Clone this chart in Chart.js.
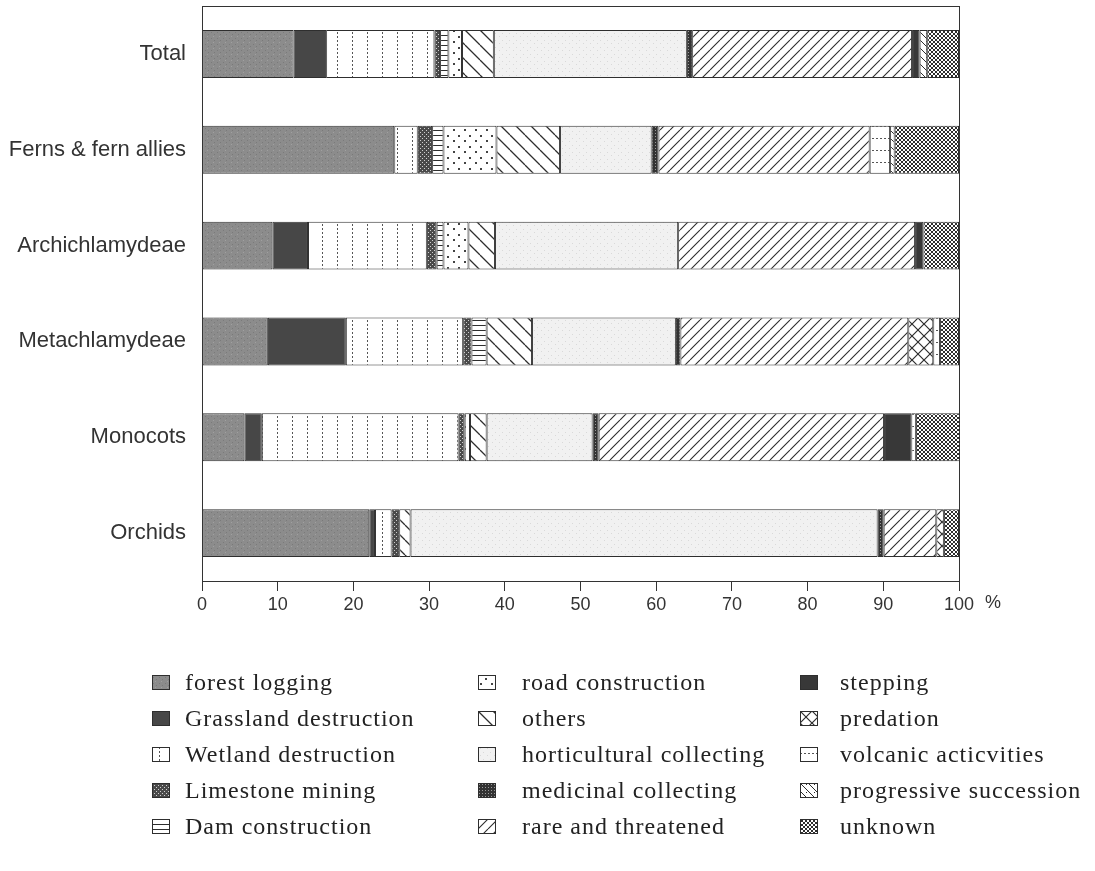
<!DOCTYPE html>
<html>
<head>
<meta charset="utf-8">
<script src="https://cdn.jsdelivr.net/npm/chart.js@4.4.1/dist/chart.umd.min.js"></script>
<style>
  body { margin: 0; background: #fff; }
  #wrap { position: absolute; left: 0; top: 0; width: 1095px; height: 640px; }
  #legend { position: absolute; left: 0; top: 0; width: 1095px; height: 871px; pointer-events: none; }
  .sw { position: absolute; }
  .txt { position: absolute; font-family: "Liberation Serif", "DejaVu Serif", serif; font-size: 24px; line-height: 28px; color: #222; letter-spacing: 1px; white-space: nowrap; }
</style>
</head>
<body>
<div id="wrap"><canvas id="chart"></canvas></div>
<div id="legend"></div>
<script>
var categories = ['Total', 'Ferns & fern allies', 'Archichlamydeae', 'Metachlamydeae', 'Monocots', 'Orchids'];
var xTicks = [0, 10, 20, 30, 40, 50, 60, 70, 80, 90, 100];

// shares in percent, one value per category (null = cause not present)
var forestLogging = [12.1, 25.4, 9.3, 8.7, 5.6, 22.1];
var grasslandDestruction = [4.3, null, 4.7, 10.3, 2.3, 0.75];
var wetlandDestruction = [14.3, 3.1, 15.7, 15.5, 26.0, 2.2];
var limestoneMining = [0.75, 1.9, 1.3, 1.1, 0.8, 1.0];
var damConstruction = [1.1, 1.5, 0.9, 2.0, null, null];
var roadConstruction = [1.8, 7.0, 3.3, null, 0.7, null];
var others = [4.2, 8.4, 3.5, 6.0, 2.2, 1.5];
var horticulturalCollecting = [25.5, 12.1, 24.2, 19.0, 14.0, 61.7];
var medicinalCollecting = [0.7, 0.9, null, 0.6, 0.8, 0.8];
var rareAndThreatened = [29.05, 27.9, 31.3, 30.1, 37.7, 6.95];
var stepping = [1.0, null, 1.1, null, 3.6, null];
var predation = [null, null, null, 3.3, null, 1.0];
var volcanicActivities = [null, 2.7, null, 0.9, 0.6, null];
var progressiveSuccession = [1.0, 0.6, null, null, null, null];
var unknown = [4.2, 8.5, 4.7, 2.5, 6.5, 2.0];

var INK = '#2e2e2e';

function tile(w, h, bg, draw) {
    var c = document.createElement('canvas');
    c.width = w; c.height = h;
    var g = c.getContext('2d');
    g.fillStyle = bg;
    g.fillRect(0, 0, w, h);
    g.fillStyle = INK;
    g.strokeStyle = INK;
    if (draw) draw(g, w, h);
    return g.createPattern(c, 'repeat');
}

function slash(g, s, back) {
    g.beginPath();
    for (var k = -1; k <= 1; k++) {
        if (back) { g.moveTo(k * s, 0); g.lineTo(k * s + s, s); }
        else { g.moveTo(k * s, s); g.lineTo(k * s + s, 0); }
    }
    g.stroke();
}

var patterns = {
    forest: tile(6, 6, '#8c8c8c', function (g) {
        g.fillStyle = '#7a7a7a'; g.fillRect(1, 2, 1, 1); g.fillRect(4, 4, 1, 1);
        g.fillStyle = '#a0a0a0'; g.fillRect(3, 0, 1, 1);
    }),
    grassland: tile(4, 4, '#474747'),
    wetland: tile(15, 4, '#fff', function (g) { g.fillStyle = '#555'; g.fillRect(7, 0, 1, 2); }),
    limestone: tile(4, 4, '#4a4a4a', function (g) {
        g.fillStyle = '#d0d0d0'; g.fillRect(0, 0, 1, 1); g.fillRect(2, 2, 1, 1);
    }),
    dam: tile(4, 5, '#fff', function (g) { g.fillRect(0, 0, 4, 1); }),
    road: tile(11, 11, '#fff', function (g) {
        g.fillStyle = '#444'; g.fillRect(2, 8, 2, 2); g.fillRect(7, 3, 2, 2);
    }),
    others: tile(15, 15, '#fff', function (g) { g.lineWidth = 1.3; slash(g, 15, true); }),
    horticultural: tile(7, 7, '#f1f1f1', function (g) {
        g.fillStyle = '#d9d9d9'; g.fillRect(2, 1, 1, 1); g.fillRect(5, 5, 1, 1);
    }),
    medicinal: tile(3, 3, '#333', function (g) { g.fillStyle = '#9a9a9a'; g.fillRect(1, 1, 1, 1); }),
    rare: tile(10, 10, '#fff', function (g) { g.lineWidth = 1.1; slash(g, 10, false); }),
    stepping: tile(4, 4, '#383838'),
    predation: tile(12, 12, '#fff', function (g) { g.lineWidth = 1.2; slash(g, 12, false); slash(g, 12, true); }),
    volcanic: tile(4, 12, '#fff', function (g) { g.fillStyle = '#555'; g.fillRect(0, 6, 2, 1); }),
    progressive: tile(8, 8, '#fff', function (g) {
        g.lineWidth = 1; slash(g, 8, true);
        g.fillRect(6, 1, 1, 1);
    }),
    unknown: tile(4, 4, '#fff', function (g) { g.lineWidth = 1; slash(g, 4, false); slash(g, 4, true); })
};

var series = [
    { label: 'forest logging', data: forestLogging, fill: patterns.forest },
    { label: 'Grassland destruction', data: grasslandDestruction, fill: patterns.grassland },
    { label: 'Wetland destruction', data: wetlandDestruction, fill: patterns.wetland },
    { label: 'Limestone mining', data: limestoneMining, fill: patterns.limestone },
    { label: 'Dam construction', data: damConstruction, fill: patterns.dam },
    { label: 'road construction', data: roadConstruction, fill: patterns.road },
    { label: 'others', data: others, fill: patterns.others },
    { label: 'horticultural collecting', data: horticulturalCollecting, fill: patterns.horticultural },
    { label: 'medicinal collecting', data: medicinalCollecting, fill: patterns.medicinal },
    { label: 'rare and threatened', data: rareAndThreatened, fill: patterns.rare },
    { label: 'stepping', data: stepping, fill: patterns.stepping },
    { label: 'predation', data: predation, fill: patterns.predation },
    { label: 'volcanic acticvities', data: volcanicActivities, fill: patterns.volcanic },
    { label: 'progressive succession', data: progressiveSuccession, fill: patterns.progressive },
    { label: 'unknown', data: unknown, fill: patterns.unknown }
];

var datasets = series.map(function (s) {
    return {
        label: s.label,
        data: s.data,
        backgroundColor: s.fill,
        borderColor: INK,
        borderWidth: 1,
        borderSkipped: false,
        categoryPercentage: 0.5,
        barPercentage: 1.0
    };
});

// frame around the plot plus the "%" after the last tick
var framePlugin = {
    id: 'frame',
    afterDraw: function (chart) {
        var a = chart.chartArea, ctx = chart.ctx;
        ctx.save();
        ctx.strokeStyle = '#333';
        ctx.lineWidth = 1;
        ctx.strokeRect(a.left + 0.5, a.top + 0.5, a.right - a.left, a.bottom - a.top);
        ctx.fillStyle = '#333';
        ctx.font = '18px "Liberation Sans", Arial, sans-serif';
        ctx.textBaseline = 'top';
        ctx.fillText('%', a.right + 26, a.bottom + 13);
        ctx.restore();
    }
};

var chart = new Chart(document.getElementById('chart'), {
    type: 'bar',
    data: { labels: categories, datasets: datasets },
    plugins: [framePlugin],
    options: {
        indexAxis: 'y',
        responsive: true,
        maintainAspectRatio: false,
        animation: false,
        layout: { padding: { left: 0, right: 136, top: 6, bottom: 0 } },
        plugins: { legend: { display: false }, tooltip: { enabled: false } },
        scales: {
            x: {
                stacked: true,
                min: 0,
                max: 100,
                afterBuildTicks: function (scale) {
                    scale.ticks = xTicks.map(function (v) { return { value: v }; });
                },
                afterFit: function (scale) { scale.height = 59; },
                grid: { drawOnChartArea: false, drawTicks: true, tickLength: 10, color: '#333' },
                border: { color: '#333' },
                ticks: {
                    color: '#333',
                    padding: 3,
                    maxRotation: 0,
                    font: { family: '"Liberation Sans", Arial, sans-serif', size: 18 }
                }
            },
            y: {
                stacked: true,
                afterFit: function (scale) {
                    scale.width = 202;
                    scale.paddingTop = 0;
                    scale.paddingBottom = 0;
                },
                grid: { display: false },
                border: { color: '#333' },
                ticks: {
                    color: '#333',
                    padding: 8,
                    font: { family: '"Liberation Sans", Arial, sans-serif', size: 22 }
                }
            }
        }
    }
});

// legend: three columns, filled top to bottom
var legendBox = document.getElementById('legend');
var swatchX = [152, 478, 800];
var textX = [185, 522, 840];
var rowY = [683, 719, 755, 791, 827];
series.forEach(function (s, i) {
    var col = Math.floor(i / 5), row = i % 5;
    var sw = document.createElement('canvas');
    sw.className = 'sw';
    sw.width = 18; sw.height = 15;
    sw.style.left = swatchX[col] + 'px';
    sw.style.top = (rowY[row] - 8) + 'px';
    var g = sw.getContext('2d');
    g.fillStyle = s.fill;
    g.fillRect(0, 0, 18, 15);
    g.strokeStyle = INK;
    g.strokeRect(0.5, 0.5, 17, 14);
    legendBox.appendChild(sw);
    var t = document.createElement('div');
    t.className = 'txt';
    t.style.left = textX[col] + 'px';
    t.style.top = (rowY[row] - 15) + 'px';
    t.textContent = s.label;
    legendBox.appendChild(t);
});
</script>
</body>
</html>
